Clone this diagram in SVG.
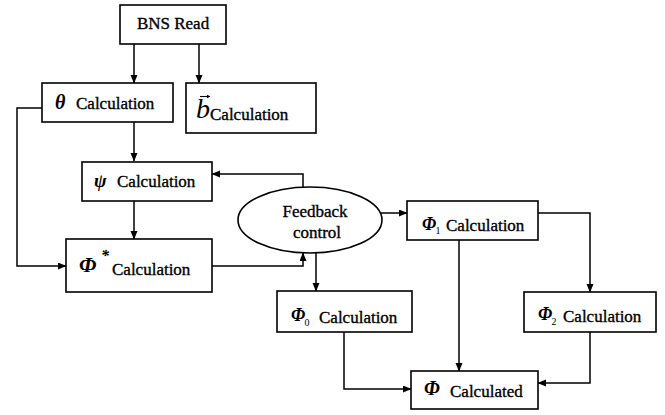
<svg xmlns="http://www.w3.org/2000/svg" width="665" height="415" viewBox="0 0 665 415">
<style>
.box{fill:#fff;stroke:#000;stroke-width:1.6}
.t{font-family:"Liberation Serif","Times New Roman",serif;font-size:17px;fill:#000;stroke:#000;stroke-width:0.35}
.g{font-family:"Liberation Serif","Times New Roman",serif;font-weight:bold;font-style:italic;fill:#000}
.s{font-family:"Liberation Serif","Times New Roman",serif;font-size:10px;fill:#000}
.c{fill:none;stroke:#000;stroke-width:1.5}
</style>
<defs>
<marker id="ah" markerWidth="9" markerHeight="8" refX="8" refY="3.5" orient="auto" markerUnits="userSpaceOnUse">
<path d="M0,0 L8.5,3.5 L0,7 z" fill="#000"/>
</marker>
</defs>
<rect width="665" height="415" fill="#fff"/>
<g id="connectors">
<path class="c" d="M134,44 V83" marker-end="url(#ah)"/>
<path class="c" d="M199,44 V83" marker-end="url(#ah)"/>
<path class="c" d="M134,122 V161" marker-end="url(#ah)"/>
<path class="c" d="M134,201 V239" marker-end="url(#ah)"/>
<path class="c" d="M42,108 H17 V266 H66" marker-end="url(#ah)"/>
<path class="c" d="M212,266 H303 V253" marker-end="url(#ah)"/>
<path class="c" d="M303,187 V174 H212" marker-end="url(#ah)"/>
<path class="c" d="M316,253 V291" marker-end="url(#ah)"/>
<path class="c" d="M381,213 H407" marker-end="url(#ah)"/>
<path class="c" d="M538,213 H590 V292" marker-end="url(#ah)"/>
<path class="c" d="M459,240 V371" marker-end="url(#ah)"/>
<path class="c" d="M590,332 V383 H538" marker-end="url(#ah)"/>
<path class="c" d="M344,332 V389 H411" marker-end="url(#ah)"/>
</g>
<g id="bns">
<rect class="box" x="120" y="5" width="106" height="39"/>
<text class="t" x="173" y="29" text-anchor="middle">BNS Read</text>
</g>
<g id="theta">
<rect class="box" x="42" y="83" width="131" height="39"/>
<text x="55" y="109"><tspan class="g" font-size="20">θ</tspan><tspan class="t" x="76">Calculation</tspan></text>
</g>
<g id="bvec">
<rect class="box" x="186" y="83" width="130" height="50"/>
<text x="196" y="118"><tspan font-family="Liberation Serif, serif" font-style="italic" font-size="28" fill="#000">b</tspan><tspan class="t" x="210" y="120">Calculation</tspan></text>
<path d="M200,96.5 H209" stroke="#000" stroke-width="1.1" fill="none"/>
<path d="M207,94.8 L210.5,96.5 L207,98.2 z" fill="#000"/>
</g>
<g id="psi">
<rect class="box" x="82" y="162" width="130" height="39"/>
<text x="94" y="187"><tspan class="g" font-size="19">ψ</tspan><tspan class="t" x="117">Calculation</tspan></text>
</g>
<g id="phistar">
<rect class="box" x="66" y="239" width="146" height="53"/>
<text x="79" y="272"><tspan class="g" font-size="22">Φ</tspan><tspan class="g" font-size="16" x="101" y="261">*</tspan><tspan class="t" x="112" y="275">Calculation</tspan></text>
</g>
<g id="feedback">
<ellipse cx="310" cy="220" rx="72" ry="33" fill="#fff" stroke="#000" stroke-width="1.6"/>
<text class="t" x="315" y="217" text-anchor="middle">Feedback</text>
<text class="t" x="317" y="238" text-anchor="middle">control</text>
</g>
<g id="phi1">
<rect class="box" x="407" y="201" width="131" height="39"/>
<text x="422" y="230"><tspan class="g" font-size="18">Φ</tspan><tspan class="s" x="435.5" y="234">1</tspan><tspan class="t" x="446" y="231">Calculation</tspan></text>
</g>
<g id="phi0">
<rect class="box" x="277" y="291" width="135" height="41"/>
<text x="291" y="321"><tspan class="g" font-size="18">Φ</tspan><tspan class="s" x="304.5" y="326">0</tspan><tspan class="t" x="319" y="323">Calculation</tspan></text>
</g>
<g id="phi2">
<rect class="box" x="524" y="292" width="132" height="40"/>
<text x="538" y="320"><tspan class="g" font-size="18">Φ</tspan><tspan class="s" x="551.5" y="325">2</tspan><tspan class="t" x="563" y="322">Calculation</tspan></text>
</g>
<g id="phi">
<rect class="box" x="411" y="371" width="127" height="38"/>
<text x="424" y="395"><tspan class="g" font-size="20">Φ</tspan><tspan class="t" x="450" y="397">Calculated</tspan></text>
</g>
</svg>
